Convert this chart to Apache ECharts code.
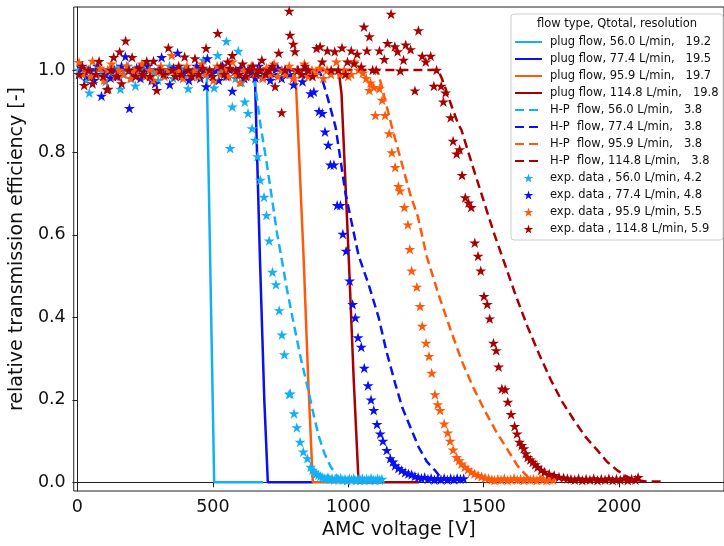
<!DOCTYPE html>
<html>
<head>
<meta charset="utf-8">
<script src="https://cdn.jsdelivr.net/npm/echarts@6/dist/echarts.min.js"></script>
<style>
html,body{margin:0;padding:0;background:#fff;}
#chart{width:724px;height:546px;}
</style>
</head>
<body>
<div id="chart"></div>
<script>
// ---------- data ----------
var xTicks = [0, 500, 1000, 1500, 2000];
var yTicks = [0, 0.2, 0.4, 0.6, 0.8, 1.0];

var legendTitle = 'flow type, Qtotal, resolution';
var names = [
  'plug flow, 56.0 L/min,   19.2',
  'plug flow, 77.4 L/min,   19.5',
  'plug flow, 95.9 L/min,   19.7',
  'plug flow, 114.8 L/min,   19.8',
  'H-P  flow, 56.0 L/min,   3.8',
  'H-P  flow, 77.4 L/min,   3.8',
  'H-P  flow, 95.9 L/min,   3.8',
  'H-P  flow, 114.8 L/min,   3.8',
  'exp. data , 56.0 L/min, 4.2',
  'exp. data , 77.4 L/min, 4.8',
  'exp. data , 95.9 L/min, 5.5',
  'exp. data , 114.8 L/min, 5.9'
];

// plug flow model [voltage, efficiency]
var plug56 = [[0,1],[472,1],[478,0.98],[505,0],[686,0]];
var plug77 = [[0,1],[650,1],[656,0.97],[674,0.54],[690,0.2],[703,0],[870,0]];
var plug95 = [[0,1],[800,1],[807,0.965],[835,0.547],[852,0.25],[869,0],[1100,0]];
var plug114 = [[0,1],[960,1],[968,0.98],[975,0.943],[1002,0.54],[1020,0.25],[1038,0],[1260,0]];

// H-P flow model
var hp56 = [[0,1],[640,1],[650,0.985],[658,0.955],[677,0.862],[697,0.782],[719,0.685],[737,0.604],[752,0.55],[773,0.47],[794,0.40],[825,0.3],[855,0.216],[875,0.155],[892,0.11],[912,0.07],[935,0.038],[955,0.018],[970,0.008],[990,0.002]];
var hp77 = [[0,1],[880,1],[892,0.995],[898,0.99],[925,0.93],[953,0.862],[990,0.70],[1038,0.55],[1075,0.48],[1112,0.40],[1140,0.32],[1173,0.24],[1200,0.18],[1234,0.126],[1260,0.085],[1290,0.05],[1320,0.029],[1343,0.01]];
var hp95 = [[0,1],[1090,1],[1105,0.995],[1112,0.99],[1135,0.93],[1161,0.862],[1195,0.78],[1228,0.70],[1257,0.644],[1290,0.547],[1332,0.458],[1375,0.375],[1418,0.296],[1460,0.232],[1503,0.175],[1545,0.124],[1589,0.078],[1625,0.04],[1662,0.013],[1680,0.005]];
var hp114 = [[0,1],[1320,1],[1335,0.995],[1345,0.98],[1357,0.959],[1380,0.915],[1405,0.87],[1418,0.854],[1460,0.765],[1503,0.676],[1540,0.60],[1577,0.531],[1620,0.45],[1662,0.377],[1705,0.31],[1748,0.248],[1790,0.195],[1834,0.15],[1876,0.11],[1919,0.078],[1955,0.05],[1993,0.029],[2030,0.013],[2066,0.005],[2100,0.002],[2169,0.002]];

// experimental data
var exp56 = [[5,1.00],[19,0.99],[32,0.975],[44,0.945],[58,0.985],[72,1.01],[86,0.99],[104,0.972],[118,1.0],[132,0.985],[145,1.005],[159,0.954],[173,0.99],[187,1.01],[200,0.98],[214,0.962],[228,1.0],[242,0.99],[256,1.015],[270,0.985],[284,0.995],[298,0.975],[312,1.0],[326,0.99],[340,1.01],[354,0.98],[368,0.995],[382,1.005],[396,0.985],[409,0.955],[423,0.99],[437,1.0],[451,0.985],[465,1.024],[480,0.995],[493,0.99],[505,0.957],[518,1.036],[530,0.995],[541,1.005],[550,1.07],[564,0.81],[572,0.911],[584,0.98],[594,1.046],[606,0.97],[618,0.923],[630,0.895],[645,0.858],[656,0.83],[665,0.79],[675,0.733],[689,0.692],[698,0.648],[708,0.586],[720,0.51],[733,0.48],[745,0.417],[755,0.358],[764,0.31],[782,0.214],[786,0.215],[800,0.167],[810,0.133],[822,0.098],[834,0.074],[849,0.058],[861,0.037],[868,0.03],[875,0.025],[882,0.02],[890,0.018],[897,0.015],[904,0.012],[911,0.01],[918,0.009],[925,0.012],[932,0.008],[940,0.01],[948,0.006],[956,0.009],[964,0.007],[972,0.01],[980,0.006],[988,0.008],[996,0.005],[1004,0.009],[1012,0.006],[1020,0.01],[1028,0.005],[1036,0.008],[1044,0.006],[1052,0.009],[1060,0.005],[1068,0.008],[1076,0.006],[1084,0.01],[1092,0.007],[1100,0.005],[1108,0.009],[1116,0.006],[1124,0.008]];
var exp77 = [[6,0.99],[19,1.005],[33,0.985],[47,1.0],[61,0.975],[75,1.01],[89,0.937],[103,0.99],[122,0.981],[136,1.0],[150,0.985],[163,1.01],[177,1.033],[192,0.907],[205,0.99],[219,1.005],[233,0.98],[247,0.995],[261,1.01],[274,0.975],[287,0.967],[299,1.0],[311,1.031],[325,0.99],[341,0.965],[355,1.005],[370,1.041],[384,0.985],[398,1.0],[412,0.975],[426,0.995],[440,1.01],[454,0.98],[466,1.0],[475,0.96],[480,1.028],[494,0.99],[508,1.0],[522,0.975],[536,1.01],[550,0.985],[563,1.0],[572,0.949],[588,0.99],[602,1.005],[616,0.98],[630,1.0],[644,0.99],[657,0.981],[670,1.01],[684,0.985],[698,1.0],[712,0.975],[726,0.99],[740,1.005],[754,0.98],[768,1.0],[784,0.99],[798,0.964],[812,1.0],[831,0.972],[845,0.99],[861,0.943],[873,0.947],[892,0.9],[904,0.895],[914,0.85],[926,0.818],[934,0.77],[947,0.77],[959,0.672],[971,0.672],[980,0.602],[992,0.561],[1005,0.489],[1016,0.432],[1026,0.399],[1036,0.351],[1048,0.328],[1059,0.277],[1073,0.235],[1084,0.2],[1094,0.175],[1106,0.141],[1118,0.118],[1128,0.1],[1142,0.078],[1155,0.058],[1165,0.05],[1173,0.041],[1185,0.034],[1197,0.029],[1210,0.024],[1222,0.021],[1234,0.019],[1246,0.015],[1258,0.012],[1270,0.01],[1282,0.012],[1294,0.008],[1306,0.01],[1318,0.006],[1330,0.009],[1342,0.007],[1354,0.01],[1366,0.006],[1378,0.009],[1390,0.007],[1402,0.01],[1414,0.008],[1426,0.009]];
var exp95 = [[6,1.019],[20,0.99],[34,1.0],[48,0.985],[56,1.022],[70,0.99],[84,1.005],[98,0.975],[112,1.0],[126,1.015],[140,0.985],[154,1.0],[168,0.99],[182,1.01],[196,0.98],[210,1.0],[224,0.99],[238,1.015],[252,0.985],[266,1.0],[280,0.975],[294,0.995],[308,1.01],[322,0.985],[336,1.0],[348,1.036],[362,0.99],[376,1.0],[390,0.98],[404,1.01],[418,0.99],[432,1.0],[446,0.985],[460,1.015],[474,0.99],[488,1.0],[502,0.975],[516,1.01],[530,0.99],[544,1.0],[558,0.985],[572,1.02],[586,0.99],[600,0.97],[614,1.0],[628,0.985],[642,1.01],[656,0.99],[670,1.0],[684,0.98],[698,1.005],[712,0.99],[726,1.015],[740,0.985],[754,1.0],[768,0.99],[782,1.01],[796,0.98],[810,1.0],[824,0.99],[838,1.015],[852,0.985],[866,1.0],[880,0.99],[894,1.005],[908,0.98],[922,1.0],[936,0.99],[956,1.02],[970,0.99],[985,1.0],[1000,0.985],[1011,0.99],[1023,1.02],[1038,1.0],[1054,0.993],[1066,0.98],[1078,0.951],[1082,0.969],[1094,0.958],[1100,0.89],[1115,0.955],[1125,0.927],[1136,0.89],[1151,0.846],[1161,0.8],[1173,0.764],[1185,0.718],[1191,0.707],[1207,0.667],[1220,0.625],[1227,0.565],[1234,0.513],[1253,0.474],[1265,0.427],[1273,0.379],[1287,0.338],[1298,0.306],[1308,0.265],[1320,0.213],[1330,0.189],[1339,0.175],[1354,0.142],[1367,0.12],[1376,0.1],[1387,0.079],[1400,0.061],[1409,0.053],[1418,0.045],[1430,0.037],[1442,0.031],[1454,0.025],[1466,0.021],[1479,0.017],[1492,0.014],[1505,0.011],[1518,0.009],[1530,0.007],[1540,0.005],[1552,0.008],[1564,0.006],[1576,0.009],[1588,0.005],[1600,0.007],[1612,0.01],[1624,0.006],[1636,0.008],[1648,0.005],[1660,0.009],[1672,0.006],[1684,0.008],[1696,0.005],[1708,0.009],[1720,0.007],[1732,0.005],[1744,0.008],[1756,0.006]];
var exp114 = [[6,0.99],[18,1.01],[25,0.963],[40,1.0],[56,0.967],[68,0.99],[80,1.021],[95,0.985],[109,0.953],[114,0.954],[125,1.0],[134,1.031],[145,0.985],[156,1.044],[163,0.967],[178,1.071],[190,1.0],[202,1.031],[215,0.985],[228,1.005],[242,0.99],[256,1.021],[268,0.985],[281,1.022],[293,0.951],[305,1.0],[318,0.99],[336,1.054],[350,1.0],[362,0.985],[374,1.01],[385,0.99],[396,1.032],[410,1.0],[422,0.985],[434,1.028],[448,0.99],[462,1.005],[475,1.053],[488,1.0],[500,0.985],[518,1.089],[530,1.01],[542,0.99],[555,1.02],[563,1.005],[572,1.036],[585,1.0],[598,0.99],[610,1.015],[622,0.985],[635,1.0],[648,1.01],[660,0.99],[672,1.0],[681,1.024],[695,0.99],[708,1.0],[720,1.01],[730,0.96],[743,1.041],[754,0.897],[766,1.0],[782,1.143],[785,1.085],[797,1.063],[803,1.045],[815,1.0],[828,0.99],[840,1.01],[852,1.0],[868,0.985],[883,1.053],[896,1.057],[904,1.02],[923,1.047],[937,1.0],[950,1.045],[963,1.0],[977,1.054],[990,0.99],[997,1.02],[1011,1.047],[1021,1.016],[1033,1.039],[1048,1.008],[1058,1.105],[1069,1.047],[1078,1.081],[1090,1.0],[1103,1.0],[1115,1.047],[1133,1.026],[1145,1.065],[1158,1.136],[1172,1.057],[1182,1.045],[1192,0.998],[1204,1.024],[1212,1.061],[1230,1.05],[1246,0.95],[1259,1.096],[1273,1.034],[1286,1.02],[1304,1.034],[1316,0.961],[1326,1.0],[1343,0.961],[1351,0.923],[1359,0.945],[1378,0.885],[1387,0.828],[1400,0.797],[1411,0.807],[1420,0.745],[1432,0.691],[1444,0.678],[1454,0.667],[1467,0.581],[1479,0.549],[1489,0.513],[1501,0.451],[1513,0.432],[1522,0.397],[1536,0.338],[1546,0.32],[1555,0.28],[1567,0.227],[1579,0.225],[1589,0.195],[1601,0.165],[1614,0.136],[1623,0.118],[1632,0.098],[1640,0.09],[1648,0.082],[1655,0.07],[1662,0.061],[1672,0.055],[1681,0.049],[1690,0.043],[1699,0.037],[1712,0.03],[1724,0.025],[1742,0.02],[1760,0.017],[1778,0.013],[1795,0.011],[1809,0.009],[1822,0.008],[1836,0.006],[1850,0.009],[1864,0.005],[1878,0.008],[1892,0.006],[1906,0.009],[1920,0.005],[1934,0.008],[1948,0.006],[1962,0.009],[1976,0.005],[1990,0.008],[2004,0.006],[2018,0.009],[2032,0.005],[2046,0.008],[2060,0.006],[2070,0.012]];

var colors = ['#14b0f5', '#0a10f0', '#ff5a0a', '#a80000'];

// ---------- chart ----------
var STAR = 'path://M0,-100L22.45,-30.9L95.1,-30.9L36.3,11.8L58.8,80.9L0,38.2L-58.8,80.9L-36.3,11.8L-95.1,-30.9L-22.45,-30.9Z';
var FONT = 'DejaVu Sans';

var plugData = [plug56, plug77, plug95, plug114];
var hpData = [hp56, hp77, hp95, hp114];
var expData = [exp56, exp77, exp95, exp114];

var series = [];
plugData.forEach(function (d, i) {
  series.push({
    name: names[i], type: 'line', data: d, symbol: 'none', z: 2,
    lineStyle: { color: colors[i], width: 2.5 }, itemStyle: { color: colors[i] }
  });
});
hpData.forEach(function (d, i) {
  series.push({
    name: names[4 + i], type: 'line', data: d, symbol: 'none', z: 2,
    lineStyle: { color: colors[i], width: 2.5, type: [9, 5] }, itemStyle: { color: colors[i] }
  });
});
expData.forEach(function (d, i) {
  series.push({
    name: names[8 + i], type: 'scatter', data: d, symbol: STAR, symbolSize: 11,
    symbolKeepAspect: true, z: 3,
    itemStyle: { color: colors[i], opacity: 1 }
  });
});

var legendData = names.map(function (n, i) {
  if (i < 8) return { name: n, itemStyle: { opacity: 0 } };
  return { name: n };
});

var chart = echarts.init(document.getElementById('chart'), null, { renderer: 'canvas' });
chart.setOption({
  animation: false,
  backgroundColor: '#fff',
  grid: { left: 73, right: -5, top: 7, bottom: 55, show: true, borderColor: '#222', borderWidth: 1 },
  xAxis: {
    type: 'value', min: -13.5, max: 2387,
    name: 'AMC voltage [V]', nameLocation: 'middle', nameGap: 29,
    nameTextStyle: { fontFamily: FONT, fontSize: 19, color: '#111' },
    axisLine: { show: true, lineStyle: { color: '#222', width: 1 } },
    axisTick: { show: true, length: 5, lineStyle: { color: '#222' }, customValues: xTicks },
    axisLabel: { fontFamily: FONT, fontSize: 17.5, color: '#111', margin: 7, customValues: xTicks,
      formatter: function (v) { return String(Math.round(v)); } },
    splitLine: { show: false }
  },
  yAxis: {
    type: 'value', min: -0.0211, max: 1.1528,
    name: 'relative transmission efficiency [-]', nameLocation: 'middle', nameGap: 45,
    nameTextStyle: { fontFamily: FONT, fontSize: 19, color: '#111' },
    axisLine: { show: true, lineStyle: { color: '#222', width: 1 } },
    axisTick: { show: true, length: 5, lineStyle: { color: '#222' }, customValues: yTicks },
    axisLabel: { fontFamily: FONT, fontSize: 17.5, color: '#111', margin: 8, customValues: yTicks,
      formatter: function (v) { return v.toFixed(1); } },
    splitLine: { show: false }
  },
  legend: {
    orient: 'vertical', left: 514, top: 36, z: 60, padding: 0,
    itemWidth: 27, itemHeight: 9, itemGap: 5,
    textStyle: { fontFamily: FONT, fontSize: 11.5, color: '#111', lineHeight: 12, padding: [0, 0, 0, 3] },
    data: legendData
  },
  graphic: [
    { type: 'rect', z: 50, shape: { x: 511, y: 14, width: 212, height: 226, r: 3 },
      style: { fill: 'rgba(255,255,255,0.85)', stroke: '#cccccc', lineWidth: 1 } },
    { type: 'text', z: 55, x: 617, y: 24, style: { text: legendTitle, fontFamily: FONT, fontSize: 11.5,
      fill: '#111', textAlign: 'center', textVerticalAlign: 'middle' } }
  ],
  series: series
});
</script>
</body>
</html>
